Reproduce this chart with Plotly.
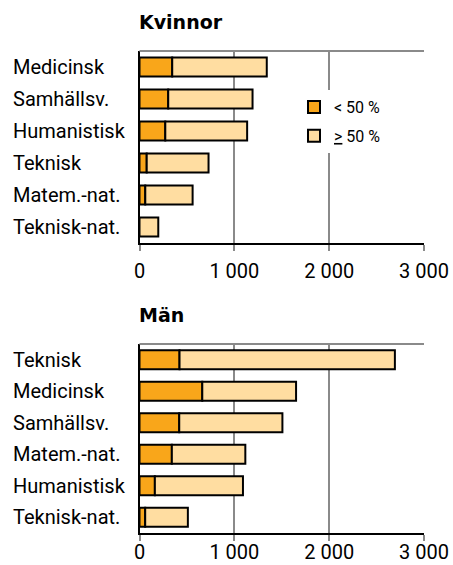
import plotly.graph_objects as go

# Kvinnor
cat_k = ["Medicinsk", "Samhällsv.", "Humanistisk", "Teknisk", "Matem.-nat.", "Teknisk-nat."]
low_k = [345, 303, 272, 76, 61, 0]
total_k = [1342, 1192, 1135, 728, 560, 198]

# Män
cat_m = ["Teknisk", "Medicinsk", "Samhällsv.", "Matem.-nat.", "Humanistisk", "Teknisk-nat."]
low_m = [422, 662, 419, 341, 162, 60]
total_m = [2693, 1651, 1507, 1116, 1091, 510]

tick_vals = [0, 1000, 2000, 3000]
tick_text = ["0", "1 000", "2 000", "3 000"]
legend_names = ["< 50 %", "<u>&gt;</u> 50 %"]
titles = ["Kvinnor", "Män"]

DARK = "#F9A61A"
LIGHT = "#FFDDA1"
FONT = "Roboto"
GRID = "#8a8a8a"

W, H = 453, 565
fig = go.Figure()


def px_y(top, bottom):
    return [1 - bottom / H, 1 - top / H]


panels = [
    (cat_k, low_k, total_k, "x", "y", True),
    (cat_m, low_m, total_m, "x2", "y2", False),
]
for cats, low, total, xa, ya, show in panels:
    high = [t - l for t, l in zip(total, low)]
    fig.add_trace(go.Bar(y=cats, x=low, orientation="h", name=legend_names[0],
                         marker=dict(color=DARK, line=dict(color="black", width=2)),
                         xaxis=xa, yaxis=ya, showlegend=show, legendgroup="a"))
    fig.add_trace(go.Bar(y=cats, x=high, base=low, orientation="h", name=legend_names[1],
                         marker=dict(color=LIGHT, line=dict(color="black", width=2)),
                         xaxis=xa, yaxis=ya, showlegend=show, legendgroup="b"))

xdom = [139.5 / W, 424 / W]
axis_common = dict(range=[0, 3000], tickvals=tick_vals, ticktext=tick_text,
                   showgrid=True, gridcolor=GRID, gridwidth=2,
                   showline=True, linecolor="black", linewidth=2,
                   ticks="outside", ticklen=6, tickwidth=2, tickcolor=GRID,
                   tickfont=dict(size=20, color="black", family=FONT),
                   zeroline=False, domain=xdom, fixedrange=True, automargin=False)
yaxis_common = dict(autorange="reversed", showticklabels=False, showgrid=False,
                    showline=True, linecolor="black", linewidth=2, ticks="",
                    zeroline=False, fixedrange=True, automargin=False)

fig.update_layout(
    width=W, height=H,
    margin=dict(l=0, r=0, t=0, b=0, autoexpand=False),
    paper_bgcolor="white", plot_bgcolor="white",
    barmode="overlay", bargap=0.4,
    font=dict(family=FONT, color="black"),
    xaxis=dict(anchor="y", ticklabelstandoff=3, **axis_common),
    yaxis=dict(anchor="x", domain=px_y(51, 243), **yaxis_common),
    xaxis2=dict(anchor="y2", ticklabelstandoff=-6, **axis_common),
    yaxis2=dict(anchor="x2", domain=px_y(344, 533), **yaxis_common),
    legend=dict(x=294 / W, y=1 - 90 / H, xanchor="left", yanchor="top",
                bgcolor="white", font=dict(size=16, family=FONT),
                tracegroupgap=5, traceorder="grouped"),
    showlegend=True,
)

# top border lines (grey)
for xr, yr in [("x domain", "y domain"), ("x2 domain", "y2 domain")]:
    fig.add_shape(type="line", xref=xr, yref=yr, x0=0, x1=1, y0=1, y1=1,
                  line=dict(color=GRID, width=2))

# category labels, left-aligned
for cats, ya in [(cat_k, "y"), (cat_m, "y2")]:
    for c in cats:
        fig.add_annotation(text=c, x=11 / W, xref="paper", y=c, yref=ya,
                           xanchor="left", yanchor="middle", showarrow=False,
                           font=dict(size=20, family=FONT, color="black"))

# panel titles
for t, ypx in zip(titles, [22, 315]):
    fig.add_annotation(text="<b>" + t + "</b>", x=137 / W, xref="paper",
                       y=1 - ypx / H, yref="paper", xanchor="left", yanchor="middle",
                       showarrow=False, font=dict(size=19, family="DejaVu Sans", color="black"))

fig.write_html("out.html", config={"displayModeBar": False},
               post_script="document.body.style.margin='0';")
